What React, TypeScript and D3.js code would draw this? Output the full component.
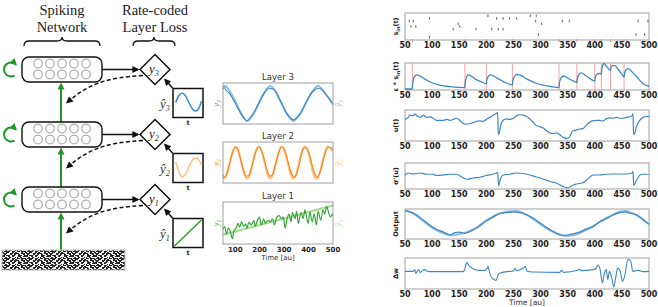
import React from 'react';
import * as d3 from 'd3';

type P = [number, number];

// ---------- DATA ----------
const TIME_DOMAIN: P = [50, 500];
const SPIKE_ROW_IDS = [1, 2, 3, 4, 5, 6, 8, 9];
const SPIKE_ROWS: number[][] = [
  [203, 281, 292],
  [95, 219, 231, 243, 256],
  [58, 65, 291, 340, 353, 480, 498],
  [148, 302],
  [61, 70, 151],
  [139, 181, 210, 222, 231],
  [296, 476, 492],
  [95],
];
const OUT_SPIKES = [63.5, 160.5, 200, 248, 334, 367, 400, 412, 429, 454];

const PSP: P[] = [
  [50, 2], [63, 2], [64, 20], [66, 42], [69, 53], [72, 56], [76, 53], [84, 44], [96, 29], [114, 17], [133, 11], [160, 7],
  [161, 25], [163, 45], [166, 56], [170, 54], [180, 40], [190, 30], [200, 22],
  [201, 38], [204, 52], [208, 56], [215, 50], [225, 38], [235, 27], [248, 18],
  [249, 35], [252, 50], [256, 58], [262, 55], [275, 40], [290, 26], [305, 17], [320, 11], [334, 7],
  [335, 28], [338, 45], [342, 52], [350, 44], [360, 33], [367, 27],
  [368, 45], [371, 58], [375, 64], [382, 56], [390, 43], [400, 33],
  [401, 48], [404, 58], [408, 62], [412, 60], [413, 80], [415, 95], [417, 100], [422, 88], [429, 74],
  [430, 85], [433, 92], [437, 92], [443, 78], [450, 58], [454, 48],
  [455, 62], [458, 76], [462, 80], [470, 65], [477, 50], [483, 35], [489, 22], [495, 16], [500, 12],
];

const U_T: P[] = [
  [50, 71], [56, 78], [59, 86], [65, 84], [68, 89], [73, 82], [78, 78], [84, 86], [90, 78], [96, 80], [102, 75], [108, 68],
  [114, 68], [121, 68], [127, 71], [133, 68], [139, 71], [145, 75], [151, 68], [157, 57], [162, 55], [170, 57], [176, 60],
  [182, 64], [188, 66], [194, 64], [200, 71], [206, 78], [213, 86], [216, 89], [219, 92], [221, 95], [222, 19], [224, 25],
  [226, 46], [231, 68], [237, 73], [243, 71], [250, 75], [256, 84], [262, 87], [268, 86], [274, 82], [280, 73], [286, 62],
  [292, 50], [299, 46], [305, 41], [311, 32], [317, 25], [323, 22], [329, 25], [335, 19], [342, 9], [348, 5], [353, 9],
  [357, 25], [360, 32], [366, 34], [372, 38], [378, 39], [385, 52], [391, 62], [397, 67], [403, 68], [409, 68], [415, 65],
  [421, 73], [428, 76], [434, 75], [440, 78], [446, 75], [452, 75], [458, 78], [464, 80], [469, 84], [470.5, 91],
  [471.5, 19], [474, 25], [477, 46], [483, 68], [489, 78], [495, 81], [500, 81],
];

const SIGMA_PRIME: P[] = [
  [50, 54], [56, 62], [65, 58], [78, 62], [90, 57], [102, 57], [108, 52], [121, 54], [133, 57], [145, 57], [157, 43],
  [164, 37], [176, 42], [188, 45], [200, 52], [213, 58], [219, 62], [221, 65], [222.5, 11], [226, 38], [231, 54],
  [243, 57], [256, 62], [268, 60], [280, 54], [292, 46], [305, 38], [317, 28], [329, 22], [342, 8], [351, 3], [357, 11],
  [366, 18], [378, 23], [385, 34], [397, 54], [409, 54], [421, 57], [434, 58], [446, 58], [458, 58], [469, 62],
  [470.5, 69], [471.8, 12], [477, 34], [486, 57], [500, 57],
];

const OUT_TARGET: P[] = [
  [50, 98], [65, 87], [84, 60], [102, 35], [121, 18], [133, 11], [145, 13], [164, 22], [182, 38], [200, 63], [219, 82],
  [237, 92], [256, 95], [274, 82], [292, 60], [311, 35], [329, 18], [348, 9], [360, 11], [378, 24], [397, 43], [415, 65],
  [434, 82], [446, 92], [458, 95], [470, 87], [483, 74], [500, 49],
];
const OUT_ACTUAL: P[] = [
  [50, 95], [59, 92], [71, 82], [84, 63], [102, 38], [121, 22], [133, 13], [142, 20], [151, 22], [160, 18], [170, 24],
  [182, 36], [200, 60], [213, 74], [225, 87], [237, 89], [250, 92], [262, 89], [274, 82], [286, 71], [299, 54], [311, 38],
  [323, 25], [335, 13], [345, 11], [351, 13], [360, 16], [372, 22], [385, 33], [397, 41], [409, 57], [421, 67], [434, 82],
  [446, 89], [455, 92], [464, 87], [477, 82], [489, 65], [500, 49],
];

const DELTA_W: P[] = [
  [50, 0], [65, 0], [68, 0.5], [70, -0.7], [73, 0.2], [75, 0.5], [78, -0.3], [83, 0.3], [87, 0.5], [90, 0.1], [96, -0.1],
  [157, -0.1], [160, 0.5], [164, 2.7], [168, 1.7], [173, 1], [179, 0.5], [188, 0.3], [197, 0.3], [202, 1], [203, 1.5],
  [207, -1], [213, -2.3], [218, -2.7], [222, -1], [226, -0.5], [237, -0.1], [250, 0.1], [253, 0.8], [256, 0.2], [262, 0.5],
  [268, 1], [272, 1.5], [275, 0], [286, -0.2], [335, -0.3], [339, 0.3], [342, -0.3], [369, 0.3], [372, 0.7], [375, 0.2],
  [397, 0.5], [403, 1], [406, 1.9], [410, 0.5], [414, -3.5], [417, -1], [421, 0.5], [424, -2.5], [427, 0], [432, -2.5],
  [435, -4.7], [439, -1.5], [442, 1], [447, 0], [451, -3], [455, -1.5], [461, 3.5], [466, 3.2], [470, 0], [480, 0.3],
  [489, -0.1], [500, 0],
];
const DELTA_W_DOMAIN: P = [-5.3, 4];

const L3_TARGET: P[] = [
  [50, 93], [58, 96], [80, 80], [101, 55], [125, 22], [149, 4], [172, 20], [196, 50], [220, 80], [243, 96], [266, 80],
  [290, 50], [314, 20], [338, 4], [363, 20], [388, 50], [414, 80], [439, 96], [470, 75], [500, 47],
];
const L3_OUT: P[] = [
  [50, 88], [55, 92], [62, 85], [75, 78], [90, 62], [105, 45], [120, 28], [135, 12], [145, 5], [152, 6], [160, 12],
  [175, 25], [190, 42], [205, 62], [220, 78], [230, 86], [240, 90], [250, 89], [262, 85], [275, 70], [290, 50], [305, 30],
  [318, 18], [330, 10], [340, 7], [350, 12], [365, 22], [380, 40], [395, 60], [410, 76], [425, 86], [440, 90], [455, 86],
  [470, 75], [485, 62], [500, 50],
];
const L2_TARGET: P[] = [
  [50, 12], [54, 8], [66, 20], [78, 50], [90, 80], [101, 92], [113, 80], [125, 50], [137, 20], [149, 8], [161, 20],
  [172, 50], [184, 80], [196, 92], [208, 80], [220, 50], [231, 20], [243, 8], [255, 20], [267, 50], [279, 80], [290, 92],
  [302, 80], [314, 50], [326, 20], [338, 8], [350, 20], [361, 50], [373, 80], [385, 92], [397, 80], [409, 50], [420, 20],
  [432, 8], [444, 20], [456, 50], [468, 80], [480, 92], [492, 86], [500, 80],
];
const L2_OUT: P[] = [
  [50, 18], [56, 12], [62, 15], [72, 35], [84, 65], [95, 85], [103, 90], [112, 82], [122, 58], [134, 30], [146, 14],
  [155, 16], [166, 35], [178, 65], [190, 86], [198, 90], [206, 84], [218, 60], [230, 30], [242, 14], [252, 18], [262, 38],
  [274, 68], [286, 88], [294, 90], [304, 80], [316, 52], [328, 25], [340, 12], [350, 18], [360, 40], [370, 68], [382, 88],
  [392, 88], [402, 74], [414, 45], [426, 20], [436, 12], [446, 22], [458, 50], [470, 78], [482, 90], [492, 88], [500, 82],
];
const L1_TARGET: P[] = [[50, 20], [500, 95]];
const L1_OUT: P[] = [
  [50, 34], [57, 41], [64, 22], [72, 37], [81, 26], [88, 10], [95, 30], [104, 37], [112, 49], [118, 39], [126, 53],
  [135, 41], [142, 47], [149, 37], [155, 52], [166, 45], [176, 57], [182, 41], [189, 53], [199, 65], [207, 45], [216, 61],
  [223, 49], [234, 57], [243, 53], [253, 61], [261, 45], [270, 65], [280, 69], [288, 61], [297, 65], [304, 37], [311, 57],
  [320, 73], [328, 53], [334, 77], [345, 61], [351, 80], [358, 49], [369, 77], [378, 61], [385, 84], [392, 65], [399, 49],
  [405, 78], [415, 53], [423, 73], [432, 45], [439, 80], [450, 57], [459, 84], [466, 73], [474, 92], [482, 77], [490, 65],
  [496, 73], [500, 69],
];

const ICON3: P[] = [[0.06, 0.52], [0.17, 0.77], [0.28, 0.86], [0.39, 0.8], [0.53, 0.52], [0.67, 0.26], [0.78, 0.2], [0.89, 0.31], [0.98, 0.57]];
const ICON2: P[] = [[0.06, 0.72], [0.17, 0.39], [0.28, 0.17], [0.42, 0.28], [0.56, 0.61], [0.69, 0.83], [0.8, 0.87], [0.91, 0.76], [0.98, 0.61]];
const ICON1: P[] = [[0.02, 0.02], [0.98, 0.98]];

// ---------- STYLE / LAYOUT ----------
const SANS = 'DejaVu Sans, sans-serif';
const SERIF = 'Liberation Serif, DejaVu Serif, serif';
const GREEN = '#22962a';
const BLUE = '#3d87c2';
const BLUE_L = '#8cbde2';
const ORANGE = '#ff7f0e';
const ORANGE_L = '#ffbf80';
const GREENL = '#2ca02c';
const GREENL_L = '#9edc8f';
const FRAME = '#a0a0a0';

const xR = d3.scaleLinear().domain(TIME_DOMAIN).range([405, 649]);
const xM = d3.scaleLinear().domain(TIME_DOMAIN).range([223, 333]);

function mkLine(xs: d3.ScaleLinear<number, number>, ys: d3.ScaleLinear<number, number>, curve = true) {
  const l = d3.line<P>().x((d) => xs(d[0])).y((d) => ys(d[1]));
  return curve ? l.curve(d3.curveMonotoneX) : l;
}

const Sub = ({ t, size = 8, dy = 3 }: { t: string; size?: number; dy?: number }) => (
  <tspan dy={dy} fontSize={size}>{t}</tspan>
);

function RightPanel({ top, bottom, label, children }: { top: number; bottom: number; label: React.ReactNode; children?: React.ReactNode }) {
  const mid = (top + bottom) / 2;
  return (
    <g>
      <rect x={405} y={top} width={244} height={bottom - top} fill="none" stroke={FRAME} strokeWidth={1} />
      {children}
      {xR.ticks(10).map((t) => (
        <text key={t} x={xR(t)} y={bottom + 8} textAnchor="middle" fontFamily={SANS} fontWeight="bold" fontSize={8} fill="#222">{t}</text>
      ))}
      <text transform={`translate(398,${mid}) rotate(-90)`} textAnchor="middle" fontFamily={SANS} fontWeight="bold" fontSize={6.5} fill="#222">{label}</text>
    </g>
  );
}

function MidPanel({ top, bottom, title, target, out, color, lightColor, idx, showTicks }: any) {
  const ys = d3.scaleLinear().domain([0, 100]).range([bottom - 1.5, top + 1.5]);
  const line = mkLine(xM, ys);
  const mid = (top + bottom) / 2;
  return (
    <g>
      <text x={278} y={top - 3} textAnchor="middle" fontFamily={SANS} fontSize={8.5} fill="#333">{title}</text>
      <path d={line(target) || ''} fill="none" stroke={lightColor} strokeWidth={2} />
      <path d={line(out) || ''} fill="none" stroke={color} strokeWidth={1.1} />
      <rect x={223} y={top} width={110} height={bottom - top} fill="none" stroke={FRAME} strokeWidth={1} />
      <text transform={`translate(219,${mid}) rotate(-90)`} textAnchor="middle" fontFamily={SERIF} fontStyle="italic" fontSize={8.5} fill={color}>y<Sub t={String(idx)} size={5.5} dy={2} /></text>
      <text transform={`translate(341,${mid}) rotate(-90)`} textAnchor="middle" fontFamily={SERIF} fontStyle="italic" fontSize={8.5} fill={lightColor}>ŷ<Sub t={String(idx)} size={5.5} dy={2} /></text>
      {showTicks && xM.ticks(5).map((t) => (
        <text key={t} x={xM(t)} y={bottom + 8} textAnchor="middle" fontFamily={SANS} fontWeight="bold" fontSize={7} fill="#222">{t}</text>
      ))}
    </g>
  );
}

function Brace({ x0, x1, y }: { x0: number; x1: number; y: number }) {
  const xm = (x0 + x1) / 2;
  const d = `M${x0},${y + 5} Q${x0},${y} ${x0 + 5},${y} L${xm - 5},${y} Q${xm},${y} ${xm},${y - 4} Q${xm},${y} ${xm + 5},${y} L${x1 - 5},${y} Q${x1},${y} ${x1},${y + 5}`;
  return <path d={d} fill="none" stroke="#111" strokeWidth={1.3} />;
}

function Layer({ cy, idx, icon, iconColor }: { cy: number; idx: number; icon: P[]; iconColor: string }) {
  const top = cy - 12.5;
  const cxs = [38, 50, 62, 74, 86];
  const bx = 173, by = cy + 19, bw = 30, bh = 29;
  const ix = d3.scaleLinear().domain([0, 1]).range([bx + 1, bx + bw - 1]);
  const iy = d3.scaleLinear().domain([0, 1]).range([by + bh - 1, by + 1]);
  const r = 7, lcx = 11;
  const a0 = (60 * Math.PI) / 180, a1 = (315 * Math.PI) / 180;
  const loop = `M${lcx + r * Math.cos(a0)},${cy + r * Math.sin(a0)} A${r},${r} 0 1 1 ${lcx + r * Math.cos(a1)},${cy + r * Math.sin(a1)}`;
  return (
    <g>
      <rect x={22} y={top} width={80} height={25} rx={7} fill="#fff" stroke="#111" strokeWidth={1.4} />
      {cxs.map((x) => [cy - 6, cy + 5].map((y) => (
        <circle key={`${x}-${y}`} cx={x} cy={y} r={4.3} fill="none" stroke="#b0b0b0" strokeWidth={1.3} />
      )))}
      <path d={loop} fill="none" stroke={GREEN} strokeWidth={2} markerEnd="url(#ag)" />
      <line x1={102} y1={cy} x2={138} y2={cy} stroke="#111" strokeWidth={1.5} markerEnd="url(#ab)" />
      <path d={`M143,${cy + 6} C105,${cy + 8} 88,${cy + 15} 67,${cy + 33}`} fill="none" stroke="#111" strokeWidth={1.5} strokeDasharray="4,2.5" markerEnd="url(#ab)" />
      <polygon points={`155,${cy - 15} 170,${cy} 155,${cy + 15} 140,${cy}`} fill="#fff" stroke="#111" strokeWidth={1.5} />
      <text x={149} y={cy + 3} fontFamily={SERIF} fontStyle="italic" fontSize={13} fill="#222">y<Sub t={String(idx)} size={8} dy={3} /></text>
      <line x1={bx - 0.5} y1={by - 0.5} x2={165} y2={cy + 10} stroke="#111" strokeWidth={1.5} markerEnd="url(#ab)" />
      <rect x={bx} y={by} width={bw} height={bh} fill="#fff" stroke="#111" strokeWidth={1.5} />
      <path d={mkLine(ix, iy, icon.length > 2)(icon) || ''} fill="none" stroke={iconColor} strokeWidth={1.5} />
      <text x={bx + bw / 2} y={by + bh + 7} textAnchor="middle" fontFamily={SANS} fontWeight="bold" fontSize={6.5} fill="#222">t</text>
      <text x={160} y={by + 19} fontFamily={SERIF} fontStyle="italic" fontSize={13} fill="#333">ŷ<Sub t={String(idx)} size={8} dy={3} /></text>
    </g>
  );
}

const NOISE_BITS: number[][] = [
  [0, 0, 3, 1], [5, 0, 2, 1], [9, 0, 4, 1], [14, 0, 1, 1], [16, 0, 2, 1], [20, 0, 3, 1],
  [1, 1, 1, 1], [8, 1, 2, 1], [13, 1, 2, 1], [18, 1, 1, 1],
  [2, 2, 2, 1], [7, 2, 3, 1], [12, 2, 1, 1], [15, 2, 4, 1], [21, 2, 2, 1],
  [0, 3, 1, 1], [5, 3, 3, 1], [11, 3, 1, 1], [17, 3, 2, 1],
  [0, 4, 2, 1], [4, 4, 4, 1], [10, 4, 2, 1], [14, 4, 2, 1], [18, 4, 3, 1],
  [3, 5, 1, 1], [8, 5, 2, 1], [13, 5, 3, 1], [20, 5, 2, 1],
  [3, 6, 3, 1], [8, 6, 2, 1], [12, 6, 4, 1], [19, 6, 2, 1],
];

export default function App() {
  const yRaster = d3.scaleLinear().domain([0, 10]).range([13, 40]);
  const yPsp = d3.scaleLinear().domain([0, 100]).range([89.5, 63.5]);
  const yU = d3.scaleLinear().domain([0, 100]).range([140, 111]);
  const ySig = d3.scaleLinear().domain([0, 100]).range([188.5, 163.5]);
  const yOut = d3.scaleLinear().domain([0, 100]).range([238.5, 209.5]);
  const yDw = d3.scaleLinear().domain(DELTA_W_DOMAIN).range([289, 258]);

  return (
    <svg width={658} height={307} style={{ position: 'absolute', left: 0, top: 0, background: '#fff' }}>
      <defs>
        <marker id="ab" viewBox="0 0 10 10" refX={8} refY={5} markerWidth={7} markerHeight={7} markerUnits="userSpaceOnUse" orient="auto">
          <path d="M0,0 L10,5 L0,10 z" fill="#111" />
        </marker>
        <marker id="ag" viewBox="0 0 10 10" refX={8} refY={5} markerWidth={7} markerHeight={7} markerUnits="userSpaceOnUse" orient="auto">
          <path d="M0,0 L10,5 L0,10 z" fill={GREEN} />
        </marker>
        <pattern id="noise" width={23} height={7} patternUnits="userSpaceOnUse" x={2} y={250}>
          <rect width={23} height={7} fill="#262626" />
          {NOISE_BITS.map((b, i) => <rect key={i} x={b[0]} y={b[1]} width={b[2]} height={b[3]} fill="#f0f0f0" />)}
        </pattern>
      </defs>

      {/* ---------- left diagram ---------- */}
      <text x={62} y={15} textAnchor="middle" fontFamily={SERIF} fontSize={14.5} fill="#222">Spiking</text>
      <text x={62} y={32} textAnchor="middle" fontFamily={SERIF} fontSize={14.5} fill="#222">Network</text>
      <text x={155} y={15} textAnchor="middle" fontFamily={SERIF} fontSize={14.5} fill="#222">Rate-coded</text>
      <text x={155} y={32} textAnchor="middle" fontFamily={SERIF} fontSize={14.5} fill="#222">Layer Loss</text>
      <Brace x0={24} x1={100} y={41} />
      <Brace x0={133} x1={175} y={41} />

      <line x1={61} y1={122} x2={61} y2={84} stroke={GREEN} strokeWidth={2} markerEnd="url(#ag)" />
      <line x1={61} y1={187} x2={61} y2={149} stroke={GREEN} strokeWidth={2} markerEnd="url(#ag)" />
      <line x1={61} y1={250} x2={61} y2={214} stroke={GREEN} strokeWidth={2} markerEnd="url(#ag)" />

      <Layer cy={69.5} idx={3} icon={ICON3} iconColor={BLUE} />
      <Layer cy={134.5} idx={2} icon={ICON2} iconColor={ORANGE_L} />
      <Layer cy={199.5} idx={1} icon={ICON1} iconColor={GREENL} />

      <rect x={2} y={250} width={123} height={20} fill="url(#noise)" stroke="#bbb" strokeWidth={1} />

      {/* ---------- middle panels ---------- */}
      <MidPanel top={83} bottom={124} title="Layer 3" target={L3_TARGET} out={L3_OUT} color={BLUE} lightColor={BLUE_L} idx={3} />
      <MidPanel top={142} bottom={183} title="Layer 2" target={L2_TARGET} out={L2_OUT} color={ORANGE} lightColor={ORANGE_L} idx={2} />
      <MidPanel top={202} bottom={244} title="Layer 1" target={L1_TARGET} out={L1_OUT} color={GREENL} lightColor={GREENL_L} idx={1} showTicks />
      <text x={278} y={260} textAnchor="middle" fontFamily={SANS} fontSize={7} fill="#333">Time [au]</text>

      {/* ---------- right panels ---------- */}
      <RightPanel top={13} bottom={40} label={<>s<Sub t="in" size={5} dy={1.5} /><tspan dy={-1.5}>(t)</tspan></>}>
        {SPIKE_ROWS.map((row, i) => row.map((t) => (
          <line key={`${i}-${t}`} x1={xR(t)} x2={xR(t)} y1={yRaster(SPIKE_ROW_IDS[i]) - 1.3} y2={yRaster(SPIKE_ROW_IDS[i]) + 1.3} stroke="#333" strokeWidth={0.8} />
        )))}
        {OUT_SPIKES.map((t) => (
          <line key={t} x1={xR(t)} x2={xR(t)} y1={39} y2={42} stroke="#f08a8a" strokeWidth={1} />
        ))}
      </RightPanel>

      <RightPanel top={63} bottom={90} label={<>ε * s<Sub t="in" size={5} dy={1.5} /><tspan dy={-1.5}>(t)</tspan></>}>
        {OUT_SPIKES.map((t) => (
          <line key={t} x1={xR(t)} x2={xR(t)} y1={63} y2={90} stroke="#f4a3a3" strokeWidth={1} />
        ))}
        <path d={mkLine(xR, yPsp)(PSP) || ''} fill="none" stroke={BLUE} strokeWidth={1.3} />
      </RightPanel>

      <RightPanel top={110} bottom={141} label="u(t)">
        <path d={mkLine(xR, yU)(U_T) || ''} fill="none" stroke={BLUE} strokeWidth={1.2} />
      </RightPanel>

      <RightPanel top={163} bottom={189} label="σ'(u)">
        <path d={mkLine(xR, ySig)(SIGMA_PRIME) || ''} fill="none" stroke={BLUE} strokeWidth={1.2} />
      </RightPanel>

      <RightPanel top={209} bottom={239} label="Output">
        <path d={mkLine(xR, yOut)(OUT_TARGET) || ''} fill="none" stroke={BLUE_L} strokeWidth={2} />
        <path d={mkLine(xR, yOut)(OUT_ACTUAL) || ''} fill="none" stroke={BLUE} strokeWidth={1.2} />
      </RightPanel>

      <RightPanel top={258} bottom={289} label="Δw">
        <path d={mkLine(xR, yDw)(DELTA_W) || ''} fill="none" stroke={BLUE} strokeWidth={1.1} />
      </RightPanel>
      <text x={527} y={305} textAnchor="middle" fontFamily={SANS} fontSize={7.5} fill="#333">Time [au]</text>
    </svg>
  );
}
